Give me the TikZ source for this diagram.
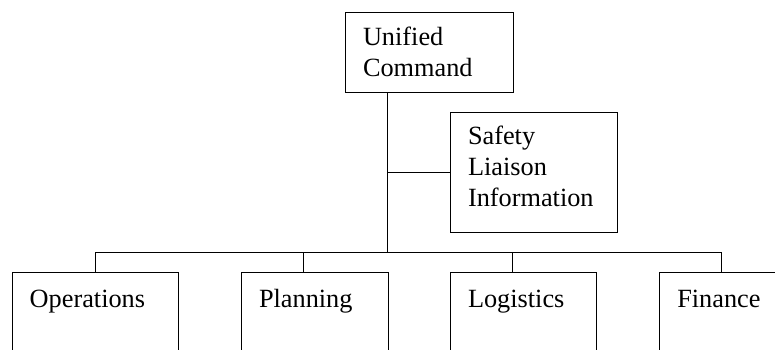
\documentclass[tikz,border=0pt]{standalone}
\usepackage{fontspec}
\setmainfont{Liberation Serif}
\usetikzlibrary{positioning}

\newcommand{\orgfont}{\fontsize{26.3pt}{30.6pt}\selectfont}

\begin{document}
\begin{tikzpicture}[
    x=1pt, y=-1pt,
    line width=1pt,
    orgbox/.style={draw, rectangle, anchor=north west, inner xsep=17.5pt,
      inner ysep=0pt, align=left, font=\orgfont}
  ]
  \useasboundingbox (0,0) rectangle (775,349);
  \clip (0,0) rectangle (775,349);

  % top of the chart
  \node[orgbox, text width=132.7pt, text height=33.4pt, text depth=46.6pt]
    (UC) at (345,12) {Unified\\Command};
  \node[orgbox, text width=131.7pt, text height=32.6pt, text depth=87.4pt]
    (SLI) at (450,111.7) {Safety\\Liaison\\Information};

  % sections, cut off at the bottom
  \node[orgbox, text width=131.6pt, text height=34.4pt, text depth=80pt]
    (OPS) at (11.7,272.3) {Operations};
  \node[orgbox, text width=111.7pt, text height=34.4pt, text depth=80pt]
    (PLN) at (241,272.3) {Planning};
  \node[orgbox, text width=111pt, text height=34.4pt, text depth=80pt]
    (LOG) at (450,272.3) {Logistics};
  \node[orgbox, text width=131.6pt, text height=34.4pt, text depth=80pt]
    (FIN) at (659.3,272.3) {Finance};

  \coordinate (spine) at (387.7,252.3);
  \coordinate (busO) at (95,252.3);
  \coordinate (busP) at (303.3,252.3);
  \coordinate (busL) at (512.7,252.3);
  \coordinate (busF) at (721.7,252.3);

  \draw (UC.south -| spine) -- (spine);
  \draw (SLI.west -| spine) -- (SLI.west);
  \draw (busO) -- (busF);
  \draw (busO) -- (busO |- OPS.north);
  \draw (busP) -- (busP |- PLN.north);
  \draw (busL) -- (busL |- LOG.north);
  \draw (busF) -- (busF |- FIN.north);
\end{tikzpicture}
\end{document}
